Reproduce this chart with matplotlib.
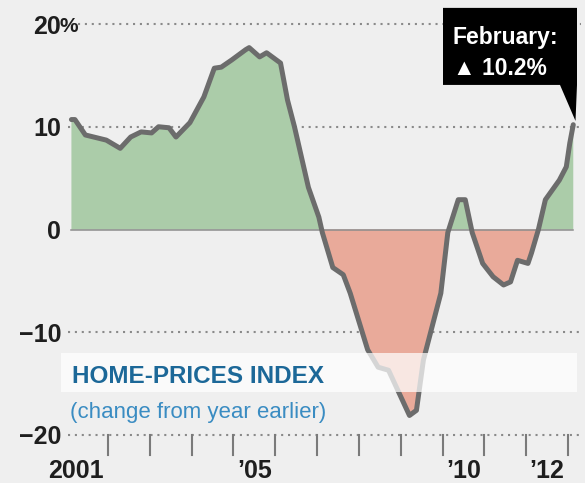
import matplotlib
matplotlib.use("Agg")
import matplotlib.pyplot as plt
from matplotlib.patches import Rectangle, Polygon
from matplotlib import font_manager
import numpy as np

# ---- data ----
months = ["2001-02", "2001-03", "2001-06", "2001-12", "2002-04", "2002-07", "2002-10",
          "2003-01", "2003-03", "2003-06", "2003-08", "2003-12", "2004-04", "2004-07",
          "2004-09", "2004-12", "2005-04", "2005-05", "2005-08", "2005-10", "2006-02",
          "2006-04", "2006-06", "2006-10", "2007-01", "2007-02", "2007-05", "2007-08",
          "2007-10", "2008-03", "2008-06", "2008-09", "2008-12", "2009-03", "2009-05",
          "2009-07", "2009-12", "2010-02", "2010-05", "2010-07", "2010-09", "2010-12",
          "2011-03", "2011-06", "2011-08", "2011-10", "2012-01", "2012-02", "2012-04",
          "2012-06", "2012-10", "2012-12", "2013-01", "2013-02"]
values = [10.7, 10.7, 9.2, 8.7, 7.9, 9.0, 9.5, 9.4, 10.0, 9.9, 9.0, 10.4, 12.9, 15.7,
          15.8, 16.5, 17.5, 17.7, 16.8, 17.2, 16.2, 12.6, 10.0, 4.1, 1.2, -0.3, -3.7, -4.4,
          -6.2, -11.7, -13.4, -13.7, -15.9, -18.1, -17.6, -12.7, -6.2, -0.3, 2.9, 2.9, -0.3,
          -3.3, -4.6, -5.4, -5.1, -3.0, -3.3, -2.3, 0.0, 2.9, 4.8, 6.1, 8.4, 10.2]
y_ticks = [20, 10, 0, -10, -20]
y_labels = ["20", "10", "0", "\u221210", "\u221220"]
x_label_years = [2001, 2005, 2010, 2012]
x_labels = ["2001", "\u201905", "\u201910", "\u201912"]
tick_years = list(range(2002, 2014))
title = "HOME-PRICES INDEX"
subtitle = "(change from year earlier)"
callout_1 = "February:"
callout_2 = "\u25B2 10.2%"

# ---- fonts ----
avail = {f.name for f in font_manager.fontManager.ttflist}
narrow = "Liberation Sans Narrow" if "Liberation Sans Narrow" in avail else "Liberation Sans"
FAM = [narrow, "DejaVu Sans"]

t = np.array([int(m[:4]) + (int(m[5:]) - 0.5) / 12 for m in months])
v = np.array(values)

BG = "#efefef"
fig = plt.figure(figsize=(5.85, 4.83), dpi=100, facecolor=BG)
W, H = 585, 483
x0, pxyr = 66.2, 41.82
xmax = 2013.3
left = x0 / W
width = (xmax - 2001) * pxyr / W
ax = fig.add_axes([left, (H - 435) / H, width, (435 - 24) / H])
ax.set_xlim(2001, xmax)
ax.set_ylim(-20, 20)
ax.axis("off")
ax.set_facecolor(BG)

def px2x(px):
    return 2001 + (px - x0) / pxyr

def py2y(py):
    return (229.5 - py) / 10.27

# dotted grid
grid_kw = dict(color="#8a8a8a", lw=1.5, ls=(0, (1, 2.3)), zorder=1, clip_on=False)
ax.plot([px2x(78), px2x(581)], [20, 20], **grid_kw)
for g in (10, -10, -20):
    ax.plot([px2x(68), px2x(581)], [g, g], **grid_kw)

# fills
ax.fill_between(t, v, 0, where=v >= 0, interpolate=True, color="#abcca9", lw=0, zorder=2)
ax.fill_between(t, v, 0, where=v <= 0, interpolate=True, color="#e9aa9a", lw=0, zorder=2)
# zero line
ax.plot([t[0], t[-1]], [0, 0], color="#8c8c8c", lw=1.1, zorder=3)
# main line
ax.plot(t, v, color="#6c6c6c", lw=3.6, solid_joinstyle="round", solid_capstyle="round",
        zorder=4, clip_on=False)

# x ticks
for yr in tick_years:
    ax.plot([yr, yr], [-20, py2y(455)], color="#7a7a7a", lw=1.5, zorder=1, clip_on=False)

# y labels
lab_kw = dict(fontsize=18, fontweight="bold", color="#1e1e1e", family=FAM, clip_on=False)
for val, lab in zip(y_ticks, y_labels):
    ax.text(px2x(61), val, lab, ha="right", va="center_baseline", **lab_kw)
ax.text(px2x(60), 20, "%", ha="left", va="center_baseline", fontsize=15,
        fontweight="bold", color="#1e1e1e", family=FAM, clip_on=False)

# x labels
for yr, lab in zip(x_label_years, x_labels):
    cx = yr + 0.5
    if yr == 2001:
        cx = px2x(76)
    ax.text(cx, py2y(468), lab, ha="center", va="center_baseline", **lab_kw)

# translucent band + title
ax.add_patch(Rectangle((px2x(61), py2y(392)), px2x(577) - px2x(61), py2y(353) - py2y(392),
                       facecolor="white", alpha=0.72, lw=0, zorder=5, clip_on=False))
ax.text(px2x(72), py2y(374), title, ha="left", va="center_baseline", fontsize=17.5,
        fontweight="bold", color="#1c6898", family=FAM, zorder=6)
ax.text(px2x(70), py2y(410), subtitle, ha="left", va="center_baseline", fontsize=16,
        color="#3a8cc2", family=FAM, zorder=6)

# callout
poly = [(px2x(443), py2y(8)), (px2x(577), py2y(8)), (px2x(577), py2y(85)),
        (px2x(575.5), py2y(121)), (px2x(560), py2y(85)), (px2x(443), py2y(85))]
ax.add_patch(Polygon(poly, closed=True, facecolor="black", edgecolor="none", zorder=7,
                     clip_on=False))
ax.text(px2x(453), py2y(35), callout_1, ha="left", va="center_baseline", fontsize=16.5,
        fontweight="bold", color="white", family=FAM, zorder=8, clip_on=False)
ax.text(px2x(453), py2y(66), callout_2, ha="left", va="center_baseline", fontsize=16.5,
        fontweight="bold", color="white", family=FAM, zorder=8, clip_on=False)

fig.savefig("out.png", dpi=100, facecolor=BG)
